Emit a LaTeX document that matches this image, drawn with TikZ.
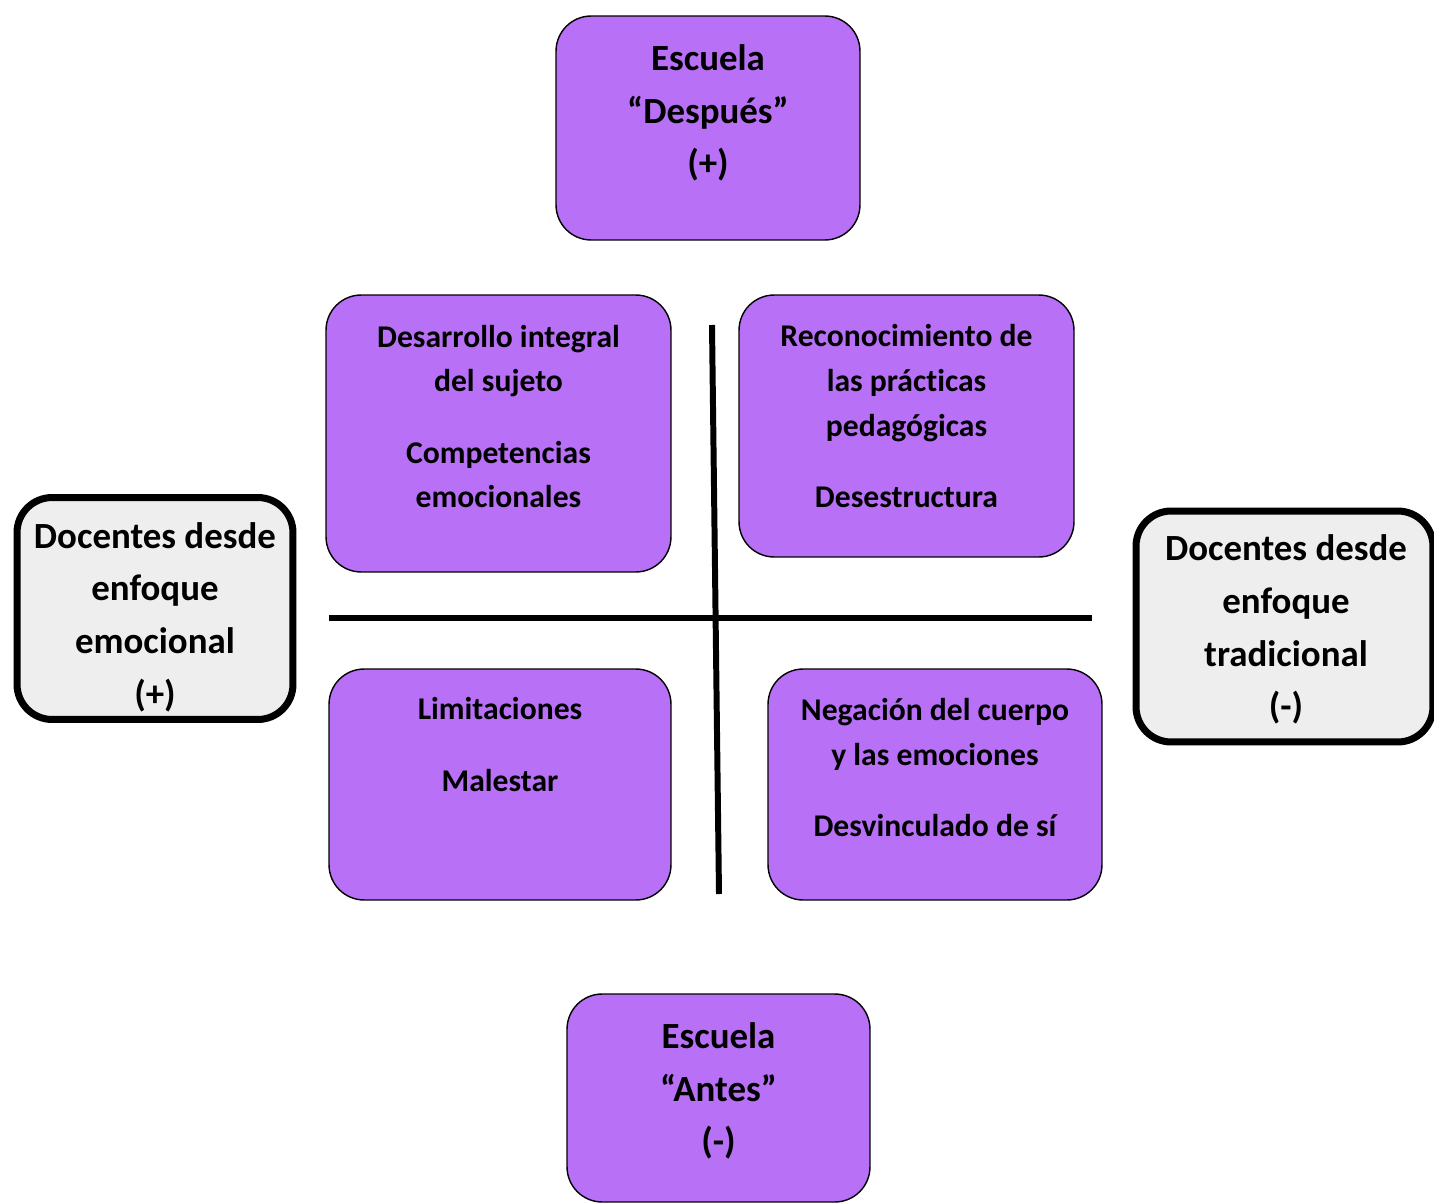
\documentclass[tikz,border=0pt]{standalone}
\usepackage{fontspec}
\setmainfont{Carlito}[Ligatures=NoCommon]
\usetikzlibrary{positioning, calc}
\definecolor{lila}{HTML}{B870F6}
\definecolor{gris}{HTML}{EEEEEE}
\newcommand{\cajalila}[4]{%
  \node[draw=black, line width=0.8pt, rounded corners=20pt, fill=lila,
        minimum width=#3, minimum height=#4] (#1) at (#2) {};}
\newcommand{\cajagris}[4]{%
  \node[draw=black, line width=4pt, rounded corners=20pt, fill=gris,
        minimum width=#3, minimum height=#4] (#1) at (#2) {};}

\begin{document}
\begin{tikzpicture}[x=0.02cm, y=-0.02cm,
    grande/.style={align=center, inner sep=0pt, font=\fontsize{21}{30}\selectfont\bfseries},
    chico/.style={align=center, inner sep=0pt, font=\fontsize{18}{25.5}\selectfont\bfseries}]
  \useasboundingbox (0,0) rectangle (1434,1203);
  % escuela arriba / abajo
  \cajalila{despues}{708,128}{6.08cm}{4.48cm}
  \cajalila{antes}{718.5,1098}{6.06cm}{4.16cm}
  \node[grande] (despuestxt) at (708,113) {Escuela\\“Después”\\(+)};
  \node[grande] (antestxt) at (718.5,1091) {Escuela\\“Antes”\\(-)};
  % docentes
  \cajagris{emocional}{155,608.5}{5.52cm}{4.44cm}
  \cajagris{tradicional}{1284.5,626.5}{5.94cm}{4.62cm}
  \node[grande] (emocionaltxt) at (155,617) {Docentes desde\\enfoque\\emocional\\(+)};
  \node[grande] (tradicionaltxt) at (1286,629.5) {Docentes desde\\enfoque\\tradicional\\(-)};
  % cuadrantes
  \cajalila{cuadA}{498.5,433.5}{6.9cm}{5.54cm}
  \cajalila{cuadB}{906.5,426}{6.7cm}{5.24cm}
  \cajalila{cuadC}{500,784.5}{6.84cm}{4.62cm}
  \cajalila{cuadD}{935,784.5}{6.68cm}{4.62cm}
  \node[chico] (cuadAtxt) at (498.5,416.5) {Desarrollo integral\\del sujeto\\[15pt]Competencias\\emocionales};
  \node[chico] (cuadBtxt) at (906.5,416) {Reconocimiento de\\las prácticas\\pedagógicas\\[15pt]Desestructura};
  \node[chico] (cuadCtxt) at (500,744.5) {Limitaciones\\[15pt]Malestar};
  \node[chico] (cuadDtxt) at (935,767.5) {Negación del cuerpo\\y las emociones\\[15pt]Desvinculado de sí};
  % ejes
  \coordinate (ejeVa) at (712,325);
  \coordinate (ejeVb) at (719,894);
  \coordinate (ejeHa) at (329,618);
  \coordinate (ejeHb) at (1092,618);
  \draw[line width=3.4pt] (ejeVa) -- (ejeVb);
  \draw[line width=3.4pt] (ejeHa) -- (ejeHb);
\end{tikzpicture}
\end{document}
